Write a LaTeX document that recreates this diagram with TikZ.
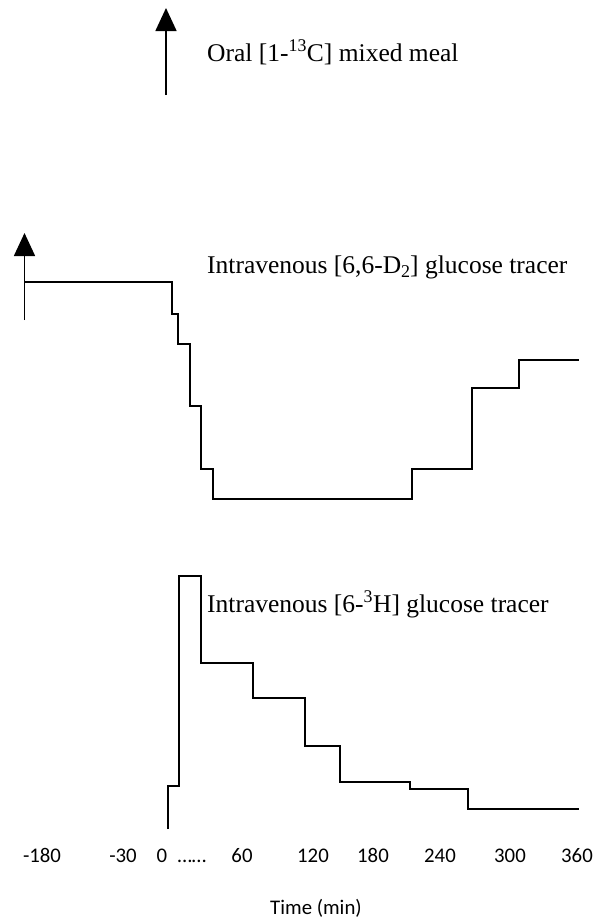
\documentclass[tikz,border=0pt]{standalone}
\usepackage{fontspec}
\setmainfont{Liberation Serif}
\newfontfamily\axisfont{Carlito}
\usetikzlibrary{arrows.meta}
\newcommand{\lowtwo}{\raisebox{-0.4ex}{\fontsize{18}{20}\selectfont 2}}
\tikzset{
  trace/.style={line width=2pt, line join=miter},
  infusion/.style={line width=1.6pt, -{Triangle[length=23pt,width=21pt]}},
  tracerlabel/.style={anchor=base west, inner sep=0pt, font=\fontsize{25.5}{30}\selectfont},
  ticklabel/.style={anchor=base, inner sep=0pt, font=\axisfont\fontsize{20.8}{25}\selectfont},
}
\begin{document}
\begin{tikzpicture}[x=1pt,y=-1pt]
\useasboundingbox (0,0) rectangle (595,922);

% oral meal at time zero
\coordinate (mealfoot) at (166,95);
\coordinate (mealtip) at (166,8);
\draw[infusion] (mealfoot) -- (mealtip);
\node[tracerlabel] (meal) at (207,61) {Oral [1-\textsuperscript{13}C] mixed meal};

% primed D2 infusion
\coordinate (d2foot) at (24.5,320);
\coordinate (d2tip) at (24.5,233);
\draw[infusion] (d2foot) -- (d2tip);
\node[tracerlabel] (d2) at (207,273) {Intravenous [6,6-D\lowtwo] glucose tracer};
\draw[trace] (24.5,282) -- (172,282) -- (172,314) -- (178,314) -- (178,344)
  -- (190,344) -- (190,406) -- (201,406) -- (201,469) -- (213,469)
  -- (213,499) -- (412,499) -- (412,469) -- (472,469) -- (472,388)
  -- (519,388) -- (519,360) -- (579,360);

% 3H tracer infusion
\node[tracerlabel] (h3) at (207,612) {Intravenous [6-\textsuperscript{3}H] glucose tracer};
\draw[trace] (167.5,829) -- (167.5,786) -- (179,786) -- (179,576) -- (201,576)
  -- (201,663) -- (253,663) -- (253,698) -- (305,698) -- (305,746)
  -- (340,746) -- (340,782) -- (410,782) -- (410,789) -- (468,789)
  -- (468,809) -- (579,809);

% time axis labels
\node[ticklabel] (t1) at (42,862) {-180};
\node[ticklabel] (t2) at (123,862) {-30};
\node[ticklabel] (t3) at (162,862) {0};
\node[ticklabel] (t4) at (192,862) {……};
\node[ticklabel] (t5) at (242,862) {60};
\node[ticklabel] (t6) at (313,862) {120};
\node[ticklabel] (t7) at (373,862) {180};
\node[ticklabel] (t8) at (440,862) {240};
\node[ticklabel] (t9) at (510,862) {300};
\node[ticklabel] (t10) at (577,862) {360};
\node[ticklabel] (xlabel) at (316,914) {Time (min)};
\end{tikzpicture}
\end{document}
